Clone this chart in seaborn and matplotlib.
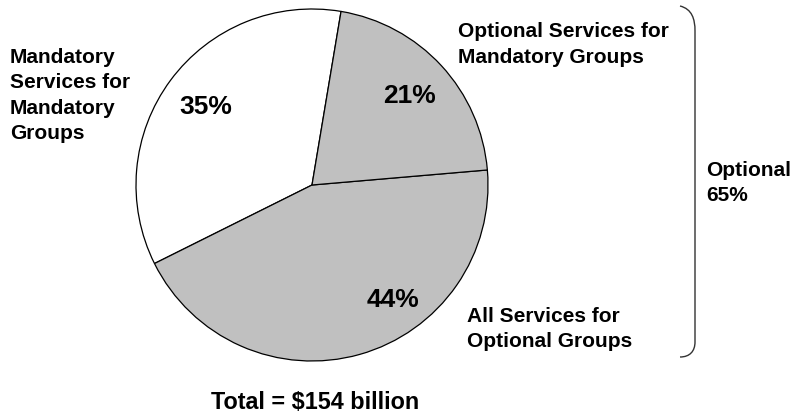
import matplotlib
matplotlib.use("Agg")
import matplotlib.pyplot as plt
import seaborn as sns
from matplotlib.path import Path
from matplotlib.patches import PathPatch

# Medicaid spending split by service / eligibility group
categories = [
    "Mandatory\nServices for\nMandatory\nGroups",
    "All Services for\nOptional Groups",
    "Optional Services for\nMandatory Groups",
]
shares = [35, 44, 21]
slice_colors = ["#ffffff", "#c0c0c0", "#c0c0c0"]
optional_label = "Optional"
optional_share = 65
total_label = "Total = $154 billion"

sns.set_theme(style="white")
plt.rcParams["font.family"] = ["Liberation Sans", "DejaVu Sans"]

W, H = 794, 414
fig = plt.figure(figsize=(W / 100, H / 100), dpi=100)
ax = fig.add_axes([0, 0, 1, 1])

cx, cy, r = 312, H - 186, 176
wedges, texts, autotexts = ax.pie(
    shares,
    colors=slice_colors,
    startangle=80.5,
    counterclock=True,
    center=(cx, cy),
    radius=r,
    frame=True,
    autopct=lambda p: f"{p:.0f}%",
    pctdistance=0.75,
    wedgeprops=dict(edgecolor="black", linewidth=0.9),
    textprops=dict(fontsize=19, fontweight="bold", color="black"),
)
# nudge the large-slice percentage toward the lower right
autotexts[1].set_position((393, H - 300))

ax.set_xlim(0, W)
ax.set_ylim(0, H)
ax.set_aspect("equal", adjustable="box")
ax.axis("off")

lab = dict(fontsize=15, fontweight="bold", color="black", ha="left",
           va="center", linespacing=1.42)
ax.text(10, H - 95.5, categories[0], **lab)
ax.text(467, H - 329, categories[1], **lab)
ax.text(458, H - 44.5, categories[2], **lab)
ax.text(706, H - 183, f"{optional_label}\n{optional_share}%", **lab)

ax.text(315, H - 403, total_label, fontsize=16.8, fontweight="bold",
        color="black", ha="center", va="center")

# bracket grouping the two optional slices
verts = [
    (680, H - 7), (692, H - 10), (695, H - 20), (695, H - 32),
    (695, H - 343),
    (695, H - 352), (690, H - 358), (680, H - 358),
]
codes = [Path.MOVETO, Path.CURVE4, Path.CURVE4, Path.CURVE4,
         Path.LINETO, Path.CURVE4, Path.CURVE4, Path.CURVE4]
ax.add_patch(PathPatch(Path(verts, codes), facecolor="none",
                       edgecolor="#333333", linewidth=1.0))

fig.savefig("out.png", dpi=100)
